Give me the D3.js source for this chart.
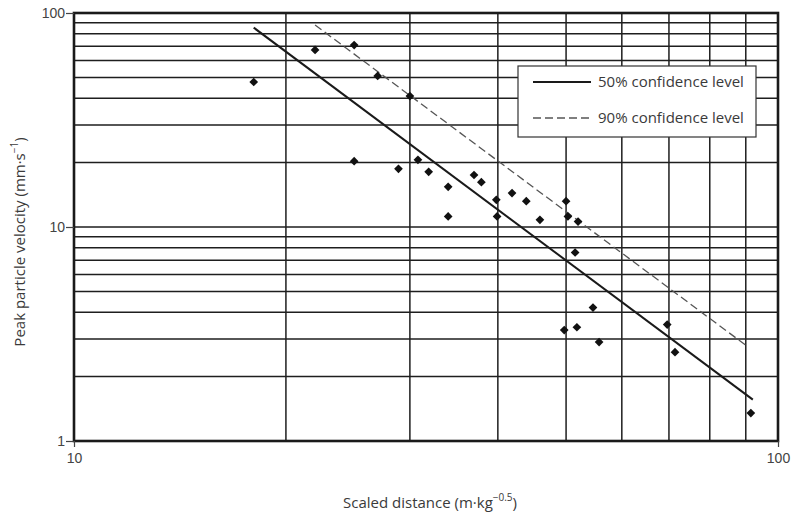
<!DOCTYPE html>
<html>
<head>
<meta charset="utf-8">
<script src="https://cdn.jsdelivr.net/npm/d3@7"></script>
<style>
  html, body { margin: 0; padding: 0; background: #fff; }
  svg { display: block; }
  .lab { font-family: "Open Sans", "DejaVu Sans Condensed", sans-serif; fill: #3a3a3a; }
  .tick-lab { font-family: "Liberation Sans", Arial, sans-serif; fill: #444; font-size: 14px; }
</style>
</head>
<body>
<script>
// Scaled distance (m·kg^-0.5) of each blast record
const scaledDistance = [18.0, 22.0, 25.0, 27.0, 30.0, 25.0, 28.9, 30.8, 31.9, 34.0,
  34.0, 37.0, 37.9, 39.8, 39.9, 41.9, 43.9, 45.9, 50.0, 50.3,
  52.0, 51.5, 49.7, 51.8, 54.6, 55.7, 69.6, 71.4, 91.5];
// Peak particle velocity (mm/s) measured for each record
const peakVelocity = [47.6, 67.2, 70.8, 50.8, 40.9, 20.3, 18.7, 20.6, 18.1, 15.4,
  11.2, 17.5, 16.2, 13.4, 11.2, 14.4, 13.2, 10.8, 13.2, 11.2,
  10.6, 7.6, 3.3, 3.4, 4.2, 2.9, 3.5, 2.6, 1.35];

// Attenuation lines: end points [scaled distance, PPV]
const fit50 = [[18.0, 85.4], [92.1, 1.56]];
const fit90 = [[22.0, 87.9], [90.7, 2.75]];

const xTickLabels = [10, 100];
const yTickLabels = [1, 10, 100];
const xGrid = [20, 30, 40, 50, 60, 70, 80, 90];
const yGrid = [2, 3, 4, 5, 6, 7, 8, 9, 10, 20, 30, 40, 50, 60, 70, 80, 90];
const legendItems = ["50% confidence level", "90% confidence level"];

const W = 792, H = 516;
const plotL = 74, plotR = 778, plotT = 13, plotB = 441;

const svg = d3.select("body").append("svg").attr("width", W).attr("height", H);

const x = d3.scaleLog().domain([10, 100]).range([plotL, plotR]);
const y = d3.scaleLog().domain([1, 100]).range([plotB, plotT]);

// grid
const grid = svg.append("g").attr("stroke", "#1e1e1e").attr("stroke-width", 1.5);
grid.selectAll("line.v").data(xGrid).join("line").attr("class", "v")
  .attr("x1", d => x(d)).attr("x2", d => x(d)).attr("y1", plotT).attr("y2", plotB);
grid.selectAll("line.h").data(yGrid).join("line").attr("class", "h")
  .attr("x1", plotL).attr("x2", plotR).attr("y1", d => y(d)).attr("y2", d => y(d));

// frame
svg.append("rect").attr("x", plotL).attr("y", plotT)
  .attr("width", plotR - plotL).attr("height", plotB - plotT)
  .attr("fill", "none").attr("stroke", "#1a1a1a").attr("stroke-width", 2.6);

// axes (ticks and labels only at the decades)
const yAxis = d3.axisLeft(y).tickValues(yTickLabels).tickFormat(d3.format("d")).tickSize(8).tickPadding(1);
const gy = svg.append("g").attr("transform", `translate(${plotL},0)`).call(yAxis);
gy.select(".domain").remove();
gy.selectAll(".tick line").attr("stroke", "#444").attr("stroke-width", 1.2);
gy.attr("font-size", null).attr("font-family", null);
gy.selectAll(".tick text").attr("class", "tick-lab").attr("fill", null);

const xAxis = d3.axisBottom(x).tickValues(xTickLabels).tickFormat(d3.format("d")).tickSize(6).tickPadding(6);
const gx = svg.append("g").attr("transform", `translate(0,${plotB})`).call(xAxis);
gx.select(".domain").remove();
gx.selectAll(".tick line").attr("stroke", "#444").attr("stroke-width", 1.2);
gx.attr("font-size", null).attr("font-family", null);
gx.selectAll(".tick text").attr("class", "tick-lab").attr("fill", null);

// fitted lines
const line = d3.line().x(d => x(d[0])).y(d => y(d[1]));
svg.append("path").datum(fit90).attr("d", line)
  .attr("fill", "none").attr("stroke", "#555").attr("stroke-width", 1.3).attr("stroke-dasharray", "8,4");
svg.append("path").datum(fit50).attr("d", line)
  .attr("fill", "none").attr("stroke", "#1a1a1a").attr("stroke-width", 2);

// data points (diamonds)
const pts = scaledDistance.map((d, i) => [d, peakVelocity[i]]);
const diamond = d3.symbol().type(d3.symbolSquare).size(38);
svg.append("g").selectAll("path").data(pts).join("path")
  .attr("d", diamond)
  .attr("transform", d => `translate(${x(d[0])},${y(d[1])}) rotate(45)`)
  .attr("fill", "#111");

// legend
const lg = svg.append("g").attr("transform", "translate(518,66)");
lg.append("rect").attr("width", 238).attr("height", 71)
  .attr("fill", "#fff").attr("stroke", "#333").attr("stroke-width", 1.2);
const rows = lg.selectAll("g").data(legendItems).join("g")
  .attr("transform", (d, i) => `translate(0,${16 + i * 36})`);
rows.append("line").attr("x1", 15).attr("x2", 73).attr("y1", 0).attr("y2", 0)
  .attr("stroke", (d, i) => i === 0 ? "#1a1a1a" : "#555")
  .attr("stroke-width", (d, i) => i === 0 ? 2 : 1.3)
  .attr("stroke-dasharray", (d, i) => i === 0 ? null : "8,4");
rows.append("text").attr("class", "lab").attr("x", 80).attr("y", 0).attr("dy", "0.35em")
  .attr("font-size", 15).text(d => d);

// axis titles
const xt = svg.append("text").attr("class", "lab").attr("x", 430).attr("y", 508)
  .attr("text-anchor", "middle").attr("font-size", 15);
xt.append("tspan").text("Scaled distance (m·kg");
xt.append("tspan").attr("dy", -7).attr("font-size", 10).text("−0.5");
xt.append("tspan").attr("dy", 7).text(")");

const yt = svg.append("text").attr("class", "lab")
  .attr("transform", "translate(25,242) rotate(-90)")
  .attr("text-anchor", "middle").attr("font-size", 15);
yt.append("tspan").text("Peak particle velocity (mm·s");
yt.append("tspan").attr("dy", -7).attr("font-size", 10).text("−1");
yt.append("tspan").attr("dy", 7).text(")");
</script>
</body>
</html>
